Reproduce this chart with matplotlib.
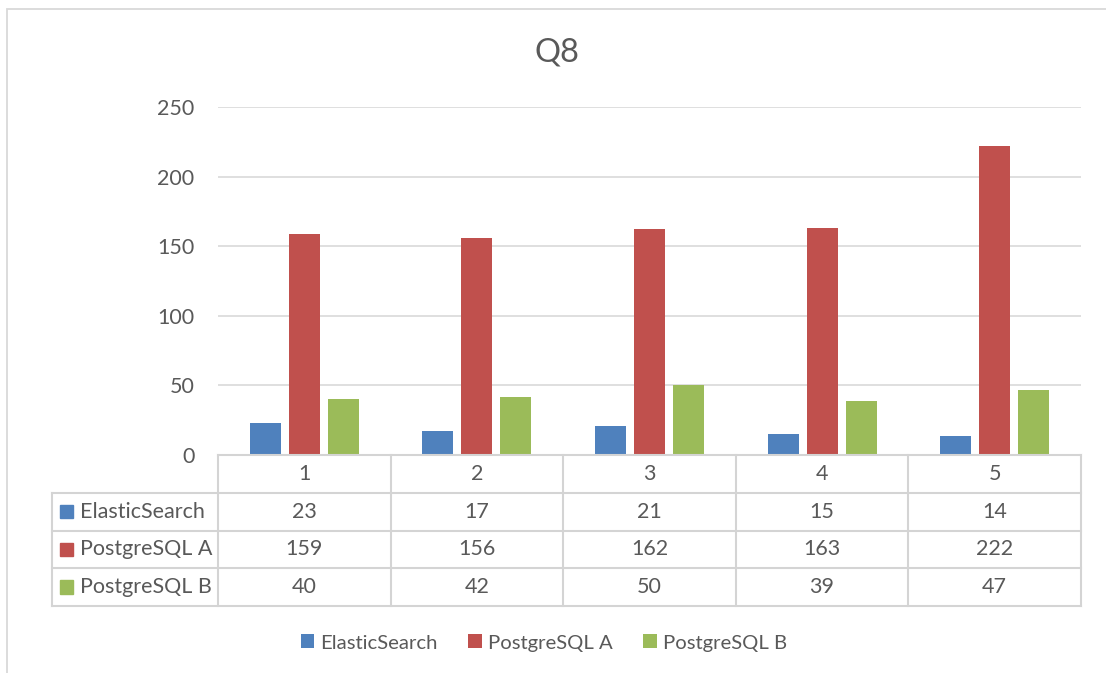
import matplotlib
matplotlib.use("Agg")
import matplotlib.pyplot as plt
from matplotlib.patches import Rectangle

categories = ["1", "2", "3", "4", "5"]
series_names = ["ElasticSearch", "PostgreSQL A", "PostgreSQL B"]
elastic = [23, 17, 21, 15, 14]
pg_a = [159, 156, 162, 163, 222]
pg_b = [40, 42, 50, 39, 47]
series_values = [elastic, pg_a, pg_b]
colors = ["#4F81BD", "#C0504D", "#9BBB59"]
y_ticks = [0, 50, 100, 150, 200, 250]
title = "Q8"

plt.rcParams['font.family'] = ['Lato', 'DejaVu Sans']
TXT = "#595959"
GRID = "#D9D9D9"
FS = 15.5

W, H = 1106, 673
fig = plt.figure(figsize=(W / 100, H / 100), dpi=100)

def fx(px):
    return px / W

def fy(py):
    return 1 - py / H

# outer chart border
fig.patches.append(Rectangle((fx(7), fy(1000)), fx(1200), fy(9) - fy(1000),
                             transform=fig.transFigure, fill=False,
                             edgecolor=GRID, lw=1.3))

x0, x1 = 218, 1081
ytop, ybot = 107, 455
ax = fig.add_axes([fx(x0), fy(ybot), fx(x1) - fx(x0), fy(ytop) - fy(ybot)])
n = len(categories)
ax.set_xlim(0, n)
ax.set_ylim(0, 250)
bw = 0.18
step = 0.226
for k, (name, vals, c) in enumerate(zip(series_names, series_values, colors)):
    xs = [i + 0.5 + (k - 1) * step for i in range(n)]
    ax.bar(xs, vals, width=bw, color=c, label=name, zorder=3)
ax.set_yticks(y_ticks)
ax.set_yticklabels([str(t) for t in y_ticks], fontsize=FS, color=TXT)
ax.tick_params(axis='y', length=0, pad=17)
ax.set_xticks([])
ax.grid(axis='y', color=GRID, lw=1.2, zorder=0)
for s in ax.spines.values():
    s.set_visible(False)

# data table
ty0, ty1 = 455, 606
lx = 52
cw = (x1 - x0) / n
left_units = (x0 - lx) / cw
tax = fig.add_axes([fx(lx), fy(ty1), fx(x1) - fx(lx), fy(ty0) - fy(ty1)])
tax.set_xlim(-left_units, n)
tax.set_ylim(4, 0)
tax.axis('off')
lc = "#D4D4D4"
lw = 1.5
tax.plot([0, n], [0, 0], color=lc, lw=lw, clip_on=False)
for r in range(1, 5):
    tax.plot([-left_units, n], [r, r], color=lc, lw=lw, clip_on=False)
for i in range(n + 1):
    tax.plot([i, i], [0, 4], color=lc, lw=lw, clip_on=False)
tax.plot([-left_units, -left_units], [1, 4], color=lc, lw=lw, clip_on=False)
px_unit = 1 / cw
for i, cat in enumerate(categories):
    tax.text(i + 0.5, 0.5, cat, ha='center', va='center', fontsize=FS, color=TXT)
for k, (name, vals, c) in enumerate(zip(series_names, series_values, colors)):
    r = k + 1.5
    tax.add_patch(Rectangle((-left_units + 8 * px_unit, r - 0.18), 13 * px_unit, 0.36,
                            color=c, clip_on=False))
    tax.text(-left_units + 28 * px_unit, r, name, ha='left', va='center', fontsize=FS, color=TXT)
    for i, v in enumerate(vals):
        tax.text(i + 0.5, r, str(v), ha='center', va='center', fontsize=FS, color=TXT)

fig.text(fx(557), fy(53), title, ha='center', va='center', fontsize=23.5, color=TXT)

handles, labels = ax.get_legend_handles_labels()
leg = fig.legend(handles, labels, loc='center', bbox_to_anchor=(fx(544), fy(643)),
                 ncol=3, frameon=False, fontsize=14.6, handlelength=0.68,
                 handleheight=0.68, columnspacing=1.5, handletextpad=0.3)
for t in leg.get_texts():
    t.set_color(TXT)

fig.savefig("out.png", dpi=100)
